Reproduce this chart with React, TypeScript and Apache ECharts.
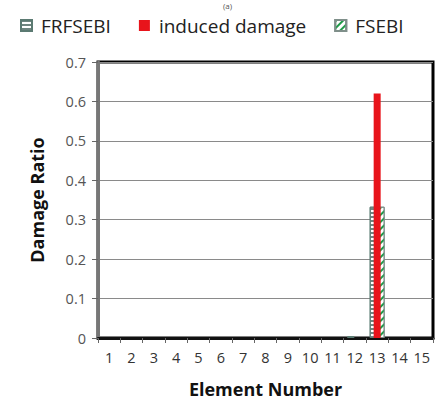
import React, { useEffect, useRef } from "react";
import * as echarts from "echarts";

const categories = ["1","2","3","4","5","6","7","8","9","10","11","12","13","14","15"];
const frfsebi = [0,0,0,0,0,0,0,0,0,0,0,0.005,0.333,0,0];
const induced = [0,0,0,0,0,0,0,0,0,0,0,0,0.62,0,0];
const fsebi = [0,0,0,0,0,0,0,0,0,0,0,0,0.333,0,0];
const yTicks = [0, 0.1, 0.2, 0.3, 0.4, 0.5, 0.6, 0.7];

const FONT = "'Open Sans', 'Noto Sans', sans-serif";
const hideZero = (arr: number[]) => arr.map((v) => (v === 0 ? "-" : v));

export default function App() {
  const ref = useRef<HTMLDivElement>(null);
  useEffect(() => {
    if (!ref.current) return;
    const chart = echarts.init(ref.current, undefined, { renderer: "svg" });
    chart.setOption({
      animation: false,
      backgroundColor: "#ffffff",
      legend: {
        top: 11,
        left: 15,
        icon: "rect",
        itemWidth: 11,
        itemHeight: 11,
        itemGap: 28,
        textStyle: { fontSize: 19, fontFamily: FONT, color: "#222", padding: [0, 0, 0, 4] },
        data: ["FRFSEBI", "induced damage", "FSEBI"],
      },
      graphic: [
        {
          type: "text",
          left: 223,
          top: 1,
          style: { text: "(a)", fontSize: 8, fontFamily: FONT, fill: "#555" },
        },
      ],
      grid: {
        left: 98,
        right: 7,
        top: 62,
        bottom: 70,
        show: true,
        borderColor: "#000",
        borderWidth: 3,
      },
      xAxis: {
        type: "category",
        data: categories,
        boundaryGap: true,
        name: "Element Number",
        nameLocation: "middle",
        nameGap: 42,
        nameTextStyle: { fontSize: 18, fontWeight: "bold", fontFamily: FONT, color: "#111" },
        axisLine: { lineStyle: { color: "#111", width: 3 } },
        axisTick: { show: true, inside: false, length: 5, lineStyle: { color: "#666" } },
        axisLabel: { fontSize: 14.5, fontFamily: FONT, color: "#333", margin: 12, interval: 0 },
      },
      yAxis: {
        type: "value",
        min: 0,
        max: 0.7,
        interval: 0.1,
        name: "Damage Ratio",
        nameLocation: "middle",
        nameGap: 52,
        nameTextStyle: { fontSize: 18, fontWeight: "bold", fontFamily: FONT, color: "#111" },
        axisLine: { show: true, lineStyle: { color: "#777", width: 3 } },
        axisTick: { show: true, length: 6, lineStyle: { color: "#666" } },
        axisLabel: {
          fontSize: 14.5,
          fontFamily: FONT,
          color: "#555",
          margin: 12,
          formatter: (v: number) => {
            const t = yTicks.find((y) => Math.abs(y - v) < 1e-9);
            return t === 0 ? "0" : (t ?? v).toFixed(1);
          },
        },
        splitLine: { lineStyle: { color: "#8a8a8a", width: 1 } },
      },
      series: [
        {
          name: "FRFSEBI",
          type: "bar",
          data: hideZero(frfsebi),
          barWidth: 7,
          barGap: "-43%",
          z: 2,
          itemStyle: {
            color: "#ffffff",
            borderColor: "#5b7a72",
            borderWidth: 1,
            decal: {
              symbol: "rect",
              symbolSize: 1,
              color: "#6f8580",
              dashArrayX: [1, 0],
              dashArrayY: [2, 2],
              rotation: 0,
            },
          },
        },
        {
          name: "induced damage",
          type: "bar",
          data: hideZero(induced),
          barWidth: 7,
          barGap: "-43%",
          z: 4,
          itemStyle: { color: "#e8141b" },
        },
        {
          name: "FSEBI",
          type: "bar",
          data: hideZero(fsebi),
          barWidth: 7,
          barGap: "-43%",
          z: 3,
          itemStyle: {
            color: "#ffffff",
            borderColor: "#7f8f8a",
            borderWidth: 1,
            decal: {
              symbol: "rect",
              symbolSize: 1,
              color: "#1f9a48",
              dashArrayX: [1, 0],
              dashArrayY: [2, 3],
              rotation: -Math.PI / 4,
            },
          },
        },
      ],
    });
    return () => chart.dispose();
  }, []);
  return <div ref={ref} style={{ width: 440, height: 408, position: "absolute", left: 0, top: 0 }} />;
}
